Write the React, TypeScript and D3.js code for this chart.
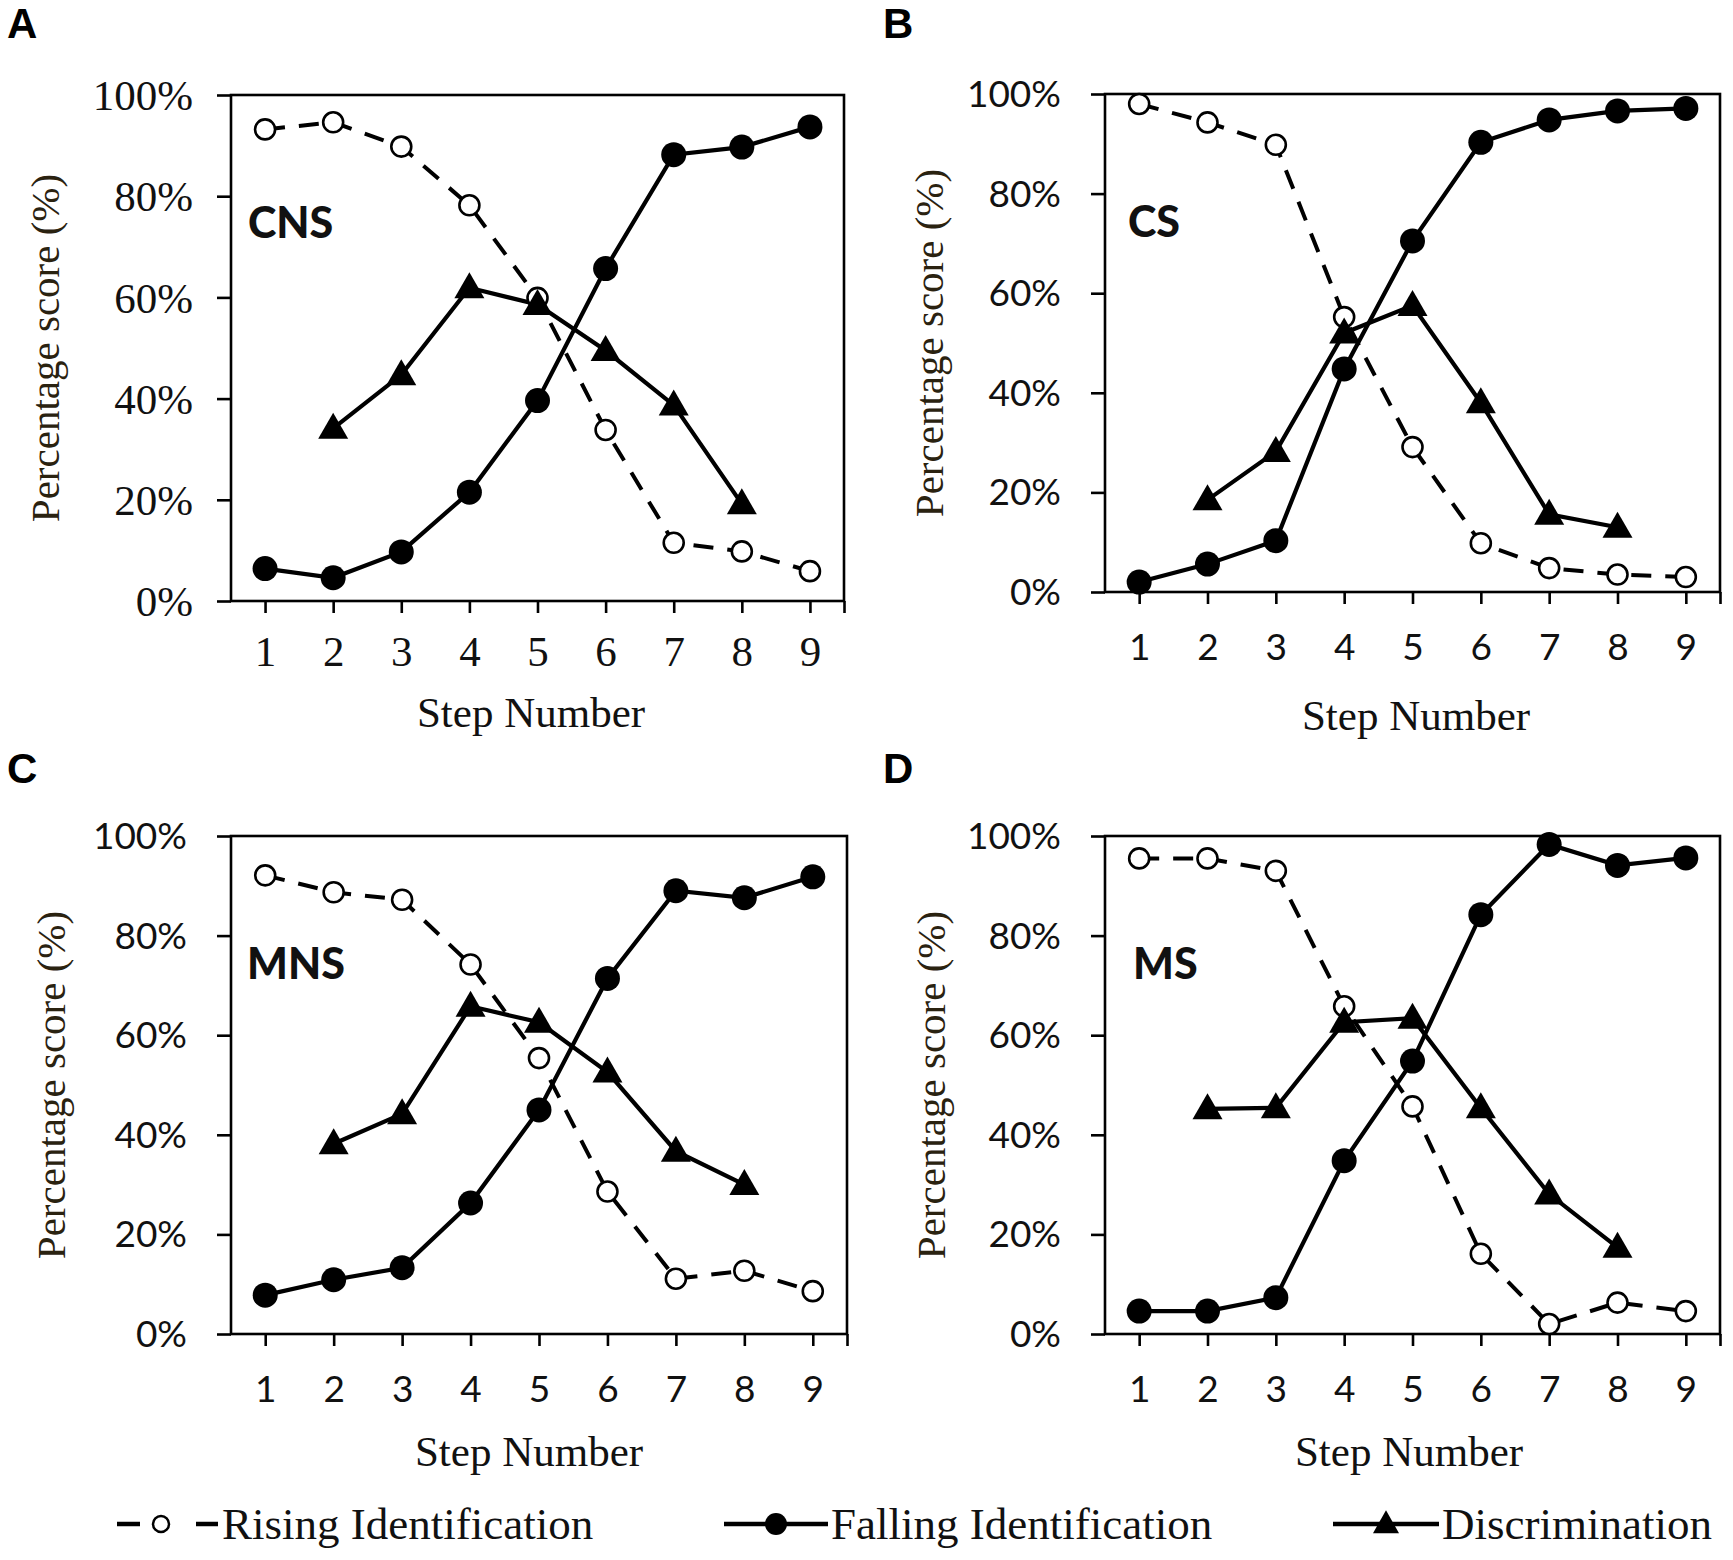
import * as d3 from "d3";
import { useEffect, useRef } from "react";

// x categories
const steps = [1, 2, 3, 4, 5, 6, 7, 8, 9];
const discSteps = [2, 3, 4, 5, 6, 7, 8];
const yTicks = [0, 20, 40, 60, 80, 100];

// A – CNS
const cnsRising = [93.2, 94.6, 89.8, 78.2, 59.9, 33.8, 11.5, 9.8, 5.9];
const cnsFalling = [6.4, 4.6, 9.7, 21.5, 39.6, 65.7, 88.2, 89.7, 93.7];
const cnsDisc = [34.1, 44.7, 61.9, 58.6, 49.5, 38.7, 19.2];

// B – CS
const csRising = [98.0, 94.3, 89.8, 55.2, 29.1, 9.8, 4.8, 3.5, 3.0];
const csFalling = [2.0, 5.6, 10.3, 44.8, 70.5, 90.3, 94.8, 96.6, 97.1];
const csDisc = [18.5, 28.2, 52.0, 57.5, 38.0, 15.6, 13.0];

// C – MNS
const mnsRising = [92.1, 88.7, 87.2, 74.2, 55.4, 28.6, 11.1, 12.7, 8.6];
const mnsFalling = [7.8, 10.9, 13.3, 26.3, 45.0, 71.4, 89.0, 87.6, 91.8];
const mnsDisc = [38.2, 44.2, 65.8, 62.6, 52.6, 36.7, 30.0];

// D – MS
const msRising = [95.5, 95.5, 93.0, 65.8, 45.7, 16.1, 2.0, 6.3, 4.6];
const msFalling = [4.6, 4.6, 7.3, 34.8, 54.8, 84.2, 98.3, 94.1, 95.6];
const msDisc = [45.2, 45.4, 62.6, 63.4, 45.4, 28.1, 17.4];

const legendLabels = ["Rising Identification", "Falling Identification", "Discrimination"];

const SERIF = "'Liberation Serif', 'Times New Roman', serif";
const SANS = "Lato, 'Open Sans', sans-serif";
const BOLD = "'Liberation Sans', Arial, sans-serif";

const panels = [
  { letter: "A", name: "CNS", rising: cnsRising, falling: cnsFalling, disc: cnsDisc,
    left: 231, right: 844, top: 95, bottom: 601, serifTicks: true,
    letterX: 7, letterY: 38, nameX: 248, ylabX: 45, xlabX: 531, xlabDy: 126 },
  { letter: "B", name: "CS", rising: csRising, falling: csFalling, disc: csDisc,
    left: 1105, right: 1720, top: 94, bottom: 592, serifTicks: false,
    letterX: 883, letterY: 38, nameX: 1128, ylabX: 929, xlabX: 1416, xlabDy: 138 },
  { letter: "C", name: "MNS", rising: mnsRising, falling: mnsFalling, disc: mnsDisc,
    left: 231, right: 847, top: 836, bottom: 1334, serifTicks: false,
    letterX: 7, letterY: 783, nameX: 247, ylabX: 51, xlabX: 529, xlabDy: 132 },
  { letter: "D", name: "MS", rising: msRising, falling: msFalling, disc: msDisc,
    left: 1105, right: 1720, top: 836, bottom: 1334, serifTicks: false,
    letterX: 883, letterY: 783, nameX: 1133, ylabX: 931, xlabX: 1409, xlabDy: 132 },
];

const W = 1733;
const H = 1560;

function triPath(cx: number, cy: number, w = 30, h = 26) {
  return `M${cx},${cy - h * 0.6}L${cx + w / 2},${cy + h * 0.4}L${cx - w / 2},${cy + h * 0.4}Z`;
}

export default function App() {
  const ref = useRef<SVGSVGElement | null>(null);

  useEffect(() => {
    const el = ref.current;
    if (!el) return;
    const svg = d3.select(el);
    svg.selectAll("*").remove();

    svg.append("rect").attr("width", W).attr("height", H).attr("fill", "#fff");

    for (const p of panels) {
      const x = d3.scaleLinear().domain([0.5, 9.5]).range([p.left, p.right]);
      const y = d3.scaleLinear().domain([0, 100]).range([p.bottom, p.top]);
      const g = svg.append("g");
      const tickFont = p.serifTicks ? SERIF : SANS;
      const tickSize = p.serifTicks ? 43 : 37;

      // y axis
      g.append("g")
        .attr("transform", `translate(${p.left},0)`)
        .call(
          d3.axisLeft(y).tickValues(yTicks).tickFormat((v) => `${v}%`).tickSize(14).tickPadding(p.serifTicks ? 24 : 30),
        )
        .call((ga) => ga.select(".domain").remove())
        .call((ga) => ga.selectAll(".tick line").attr("stroke", "#000").attr("stroke-width", 2.6))
        .call((ga) =>
          ga.selectAll(".tick text")
            .attr("fill", "#111")
            .attr("font-family", tickFont)
            .attr("font-size", tickSize)
            .attr("dy", "0.34em"),
        );

      // x axis
      g.append("g")
        .attr("transform", `translate(0,${p.bottom})`)
        .call(
          d3.axisBottom(x).tickValues([...steps, 9.5]).tickFormat((v) => (Number.isInteger(v) ? String(v) : "")).tickSize(12).tickPadding(p.serifTicks ? 22 : 30),
        )
        .call((ga) => ga.select(".domain").remove())
        .call((ga) => ga.selectAll(".tick line").attr("stroke", "#000").attr("stroke-width", 2.6))
        .call((ga) =>
          ga.selectAll(".tick text")
            .attr("fill", "#111")
            .attr("font-family", tickFont)
            .attr("font-size", tickSize)
            .attr("dy", "0.71em"),
        );

      // plot frame
      g.append("rect")
        .attr("x", p.left)
        .attr("y", p.top)
        .attr("width", p.right - p.left)
        .attr("height", p.bottom - p.top)
        .attr("fill", "none")
        .attr("stroke", "#000")
        .attr("stroke-width", 2.6);

      const line = d3.line<[number, number]>().x((d) => x(d[0])).y((d) => y(d[1]));
      const rise = steps.map((s, i) => [s, p.rising[i]] as [number, number]);
      const fall = steps.map((s, i) => [s, p.falling[i]] as [number, number]);
      const disc = discSteps.map((s, i) => [s, p.disc[i]] as [number, number]);

      g.append("path").attr("d", line(rise)).attr("fill", "none").attr("stroke", "#000")
        .attr("stroke-width", 4).attr("stroke-dasharray", "20,14");
      g.append("path").attr("d", line(fall)).attr("fill", "none").attr("stroke", "#000").attr("stroke-width", 4.2);
      g.append("path").attr("d", line(disc)).attr("fill", "none").attr("stroke", "#000").attr("stroke-width", 4.2);

      g.selectAll("circle.rise").data(rise).join("circle").attr("class", "rise")
        .attr("cx", (d) => x(d[0])).attr("cy", (d) => y(d[1])).attr("r", 10)
        .attr("fill", "#fff").attr("stroke", "#000").attr("stroke-width", 2.6);
      g.selectAll("circle.fall").data(fall).join("circle").attr("class", "fall")
        .attr("cx", (d) => x(d[0])).attr("cy", (d) => y(d[1])).attr("r", 12.5).attr("fill", "#000");
      g.selectAll("path.tri").data(disc).join("path").attr("class", "tri")
        .attr("d", (d) => triPath(x(d[0]), y(d[1]))).attr("fill", "#000");

      // texts
      g.append("text").attr("x", p.letterX).attr("y", p.letterY).attr("font-family", BOLD)
        .attr("font-weight", 700).attr("font-size", 42).attr("fill", "#000").text(p.letter);
      g.append("text").attr("x", p.nameX).attr("y", p.top + 143).attr("font-family", SANS)
        .attr("font-weight", 900).attr("font-size", 43).attr("fill", "#111").text(p.name);
      g.append("text")
        .attr("transform", `translate(${p.ylabX},${(p.top + p.bottom) / 2}) rotate(-90)`)
        .attr("text-anchor", "middle").attr("dy", "0.33em")
        .attr("font-family", SERIF).attr("font-size", 41).attr("fill", "#2a2210")
        .text("Percentage score (%)");
      g.append("text").attr("x", p.xlabX).attr("y", p.bottom + p.xlabDy)
        .attr("text-anchor", "middle").attr("font-family", SERIF).attr("font-size", 43)
        .attr("fill", "#111").text("Step Number");
    }

    // legend
    const ly = 1524;
    const lg = svg.append("g");
    lg.append("line").attr("x1", 117).attr("x2", 140).attr("y1", ly).attr("y2", ly)
      .attr("stroke", "#000").attr("stroke-width", 4.5);
    lg.append("line").attr("x1", 196).attr("x2", 218).attr("y1", ly).attr("y2", ly)
      .attr("stroke", "#000").attr("stroke-width", 4.5);
    lg.append("circle").attr("cx", 161).attr("cy", ly).attr("r", 8)
      .attr("fill", "#fff").attr("stroke", "#000").attr("stroke-width", 2.5);
    lg.append("line").attr("x1", 724).attr("x2", 828).attr("y1", ly).attr("y2", ly)
      .attr("stroke", "#000").attr("stroke-width", 4.5);
    lg.append("circle").attr("cx", 776).attr("cy", ly).attr("r", 11).attr("fill", "#000");
    lg.append("line").attr("x1", 1333).attr("x2", 1439).attr("y1", ly).attr("y2", ly)
      .attr("stroke", "#000").attr("stroke-width", 4.5);
    lg.append("path").attr("d", triPath(1386, ly, 26, 23)).attr("fill", "#000");

    const lx = [222, 831, 1442];
    legendLabels.forEach((t, i) => {
      lg.append("text").attr("x", lx[i]).attr("y", ly + 15).attr("font-family", SERIF)
        .attr("font-size", 45).attr("fill", "#111").text(t);
    });
  }, []);

  return (
    <svg
      ref={ref}
      width={W}
      height={H}
      viewBox={`0 0 ${W} ${H}`}
      style={{ position: "absolute", left: 0, top: 0, display: "block" }}
    />
  );
}
